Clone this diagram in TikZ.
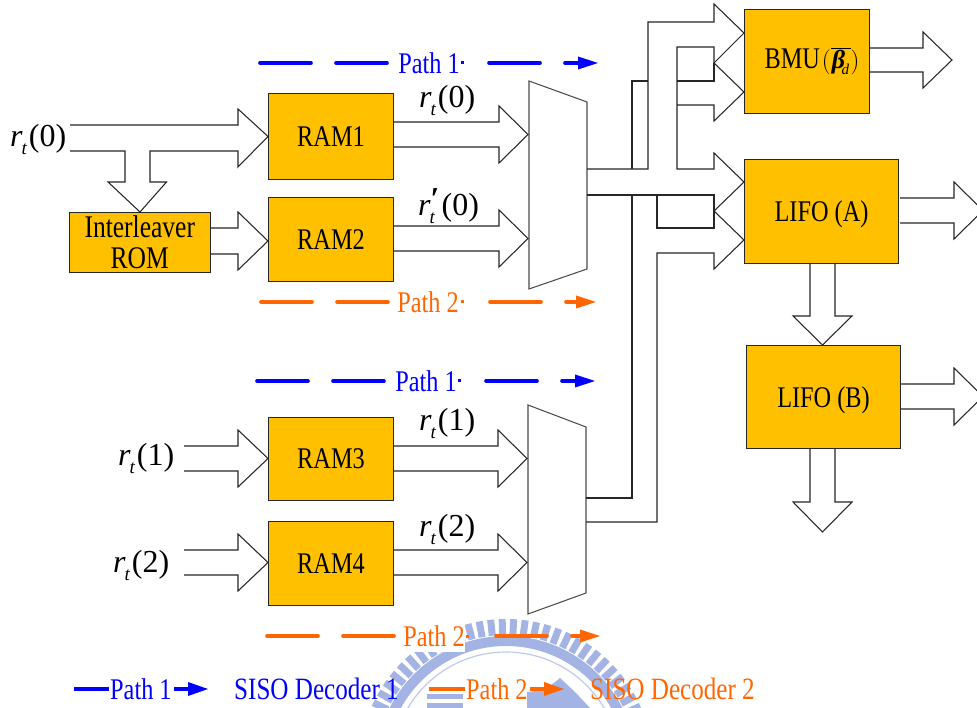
\documentclass[tikz,border=0pt]{standalone}
\usepackage{fontspec}
\setmainfont[FakeStretch=0.81]{Liberation Serif}
\newfontfamily\plainserif{Liberation Serif}
\definecolor{boxfill}{HTML}{FFC000}
\definecolor{pathblue}{HTML}{0000FF}
\definecolor{pathorange}{HTML}{FF6600}
\definecolor{crest}{HTML}{A3B3E3}
\newcommand{\Rsym}[1]{{\plainserif\fontsize{32}{34}\selectfont\itshape r\kern-1pt\raisebox{-8pt}{\fontsize{19}{19}\selectfont t}\kern2pt{\upshape(#1)}}}
\newcommand{\Rprime}[1]{{\plainserif\fontsize{32}{34}\selectfont\itshape r\kern-1pt\rlap{\raisebox{-8pt}{\fontsize{19}{19}\selectfont t}}\raisebox{6pt}{\bfseries\upshape\kern1pt′}\kern2pt{\upshape(#1)}}}
% straight block arrow, horizontal: start x, y1, y2, head base x, tip x
\newcommand{\hblock}[5]{\draw[wire] (#1,#2) -- (#4,#2) -- (#4,{#2-16}) -- (#5,{(#2+#3)/2}) -- (#4,{#3+16}) -- (#4,#3) -- (#1,#3);}
% vertical: start y, x1, x2, head base y, tip y
\newcommand{\vblock}[5]{\draw[wire] (#2,#1) -- (#2,#4) -- ({#2-17},#4) -- ({(#2+#3)/2},#5) -- ({#3+17},#4) -- (#3,#4) -- (#3,#1);}
% dashed path: y, colour, first dash x, tick x, tip x, text, text centre x
\newcommand{\pathline}[7]{%
  \draw[pathdash,#2] (#3,#1) -- ({#3+51},#1);
  \draw[pathdash,#2] ({#3+76},#1) -- ({#3+127},#1);
  \draw[pathdash,#2] ({#3+229},#1) -- ({#3+280},#1);
  \draw[pathdash,#2] ({#3+305},#1) -- ({#5-15},#1);
  \fill[#2] ({#5-20},{#1-6.5}) -- (#5,#1) -- ({#5-20},{#1+6.5}) -- cycle;
  \fill[#2] (#4,{#1-1.5}) rectangle ++(3,3);
  \node[pathtext,text=#2] at (#7,#1) {#6};}
\tikzset{
  x=1pt,y=-1pt,
  wire/.style={draw=black!85,line width=1.05pt,line join=miter},
  blockbox/.style={draw=black!85,line width=1pt,fill=boxfill,anchor=north west,inner sep=0pt,font=\fontsize{30}{32}\selectfont,align=center},
  mux/.style={draw=black!70,line width=1.05pt},
  pathdash/.style={line width=3.6pt,line cap=round},
  pathtext/.style={font=\fontsize{30}{31}\selectfont,inner sep=0pt},
  legendtext/.style={font=\fontsize{31}{32}\selectfont,inner sep=0pt,anchor=west},
  symlabel/.style={inner sep=0pt,anchor=west},
}
\begin{document}
\begin{tikzpicture}
\clip (0,0) rectangle (977,708);
\fill[white] (0,0) rectangle (977,708);
% watermark crest
\begin{scope}
  \clip (0,610) rectangle (977,708);
  \foreach \a in {-78,-73.5,...,78} {
    \draw[crest,line width=7pt] ({506+sin(\a)*131},{766-cos(\a)*131}) -- ({506+sin(\a)*147},{766-cos(\a)*147});
  }
  \draw[crest,line width=10pt] (506,766) circle [radius=125];
  \draw[crest!70,line width=1.2pt] (506,766) circle [radius=114];
  \fill[crest] (427,694) rectangle (465,699);
  \fill[crest] (427,703) rectangle (465,708);
  \fill[crest] (527,708) -- (527,692) -- (545,690) -- (560,678) -- (575,692) -- (590,708) -- cycle;
  \fill[white] (380,612) rectangle (465,652);
  \fill[white] (463,678) rectangle (527,708);
\end{scope}
% boxes
\node[blockbox,minimum width=125pt,minimum height=86pt] (ram1) at (268,93) {RAM1};
\node[blockbox,minimum width=125pt,minimum height=84pt] (ram2) at (268,197) {RAM2};
\node[blockbox,minimum width=125pt,minimum height=83pt] (ram3) at (268,417) {RAM3};
\node[blockbox,minimum width=125pt,minimum height=84pt] (ram4) at (268,521) {RAM4};
\node[blockbox,minimum width=141.5pt,minimum height=60pt,font=\fontsize{31.5}{31}\selectfont] (rom) at (68.5,212) {Interleaver\\ROM};
\node[blockbox,minimum width=125pt,minimum height=104pt,font=\fontsize{30}{30}\selectfont] (bmu) at (744,9) {\kern10pt BMU\kern2pt$(\overline{\mbox{\kern1pt\plainserif\fontsize{26}{26}\selectfont\bfseries\itshape β}_{\!\mbox{\plainserif\fontsize{15}{15}\selectfont\itshape d}}\kern1pt})$};
\node[blockbox,minimum width=154pt,minimum height=104pt] (lifoa) at (744,159) {\raisebox{-3pt}[20pt][6pt]{LIFO (A)}};
\node[blockbox,minimum width=154pt,minimum height=103pt] (lifob) at (746,345) {\raisebox{-3pt}[20pt][6pt]{LIFO (B)}};
% multiplexers
\draw[mux] (529,81) -- (587,102) -- (587,269) -- (529,289) -- cycle;
\draw[mux] (528,405) -- (586,427) -- (586,593) -- (528,614) -- cycle;
% input block arrows
\draw[wire] (70,125) -- (238,125) -- (238,109) -- (268,136.5) -- (238,167) -- (238,151) -- (150,151) -- (150,182) -- (166.5,182) -- (140,212) -- (108,182) -- (125,182) -- (125,151) -- (70,151);
\hblock{210}{228}{254}{238}{268}
\hblock{184}{446}{471}{238}{268}
\hblock{184}{550}{575}{238}{268}
% RAM to mux
\hblock{393}{122}{147}{499}{528}
\hblock{393}{226}{251}{499}{528}
\hblock{393}{446}{471}{498}{527}
\hblock{393}{550}{575}{498}{527}
% outputs
\hblock{869}{48}{72}{923}{952}
\hblock{900}{198}{223}{954}{983}
\hblock{900}{384}{409}{954}{983}
\vblock{263}{810}{835}{316}{345}
\vblock{448}{810}{835}{502}{532}
% bus wiring
\draw[wire] (587,169) -- (648,169) -- (648,22) -- (714,22) -- (714,4) -- (744,33) -- (714,63) -- (744,92) -- (714,121) -- (714,105) -- (677,105);
\draw[wire] (714,63) -- (714,47) -- (677,47) -- (677,169) -- (714,169) -- (714,153) -- (744,182) -- (714,211) -- (744,240) -- (714,269) -- (714,253) -- (657,253) -- (657,522) -- (586,522);
\draw[wire] (714,63) -- (714,81) -- (677,81);
\draw[wire] (632,169) -- (632,81) -- (648,81);
\draw[wire] (587,195) -- (714,195) -- (714,228) -- (657,228) -- (657,195);
\draw[wire] (632,195) -- (632,498) -- (586,498);
% dashed path markers
\pathline{63}{pathblue}{260}{461}{598}{Path 1}{429}
\pathline{302}{pathorange}{261}{461}{596}{Path 2}{428}
\pathline{381}{pathblue}{257}{458}{595}{Path 1}{426}
\pathline{636}{pathorange}{267}{466}{600}{Path 2}{434}
% legend
\draw[pathdash,pathblue,line cap=butt] (74,689) -- (109,689);
\node[legendtext,font=\fontsize{30}{31}\selectfont,text=pathblue] (p1) at (110,689) {Path 1};
\draw[pathdash,pathblue,line cap=butt] (174,689) -- (190,689);
\fill[pathblue] (188,682) -- (208,689) -- (188,696) -- cycle;
\node[legendtext,text=pathblue] (d1) at (234,689) {SISO Decoder 1};
\draw[pathdash,pathorange,line cap=butt] (429,689) -- (465,689);
\node[legendtext,font=\fontsize{30}{31}\selectfont,text=pathorange] (p2) at (466,689) {Path 2};
\draw[pathdash,pathorange,line cap=butt] (530,689) -- (546,689);
\fill[pathorange] (544,682) -- (564,689) -- (544,696) -- cycle;
\node[legendtext,text=pathorange] (d2) at (590,689) {SISO Decoder 2};
% signal labels
\node[symlabel] (l0) at (10,139) {\Rsym{0}};
\node[symlabel] (l1) at (118,458) {\Rsym{1}};
\node[symlabel] (l2) at (113,565) {\Rsym{2}};
\node[symlabel] (o0) at (419,100) {\Rsym{0}};
\node[symlabel] (o0p) at (418,206) {\Rprime{0}};
\node[symlabel] (o1) at (419,423) {\Rsym{1}};
\node[symlabel] (o2) at (419,529) {\Rsym{2}};
\end{tikzpicture}
\end{document}
